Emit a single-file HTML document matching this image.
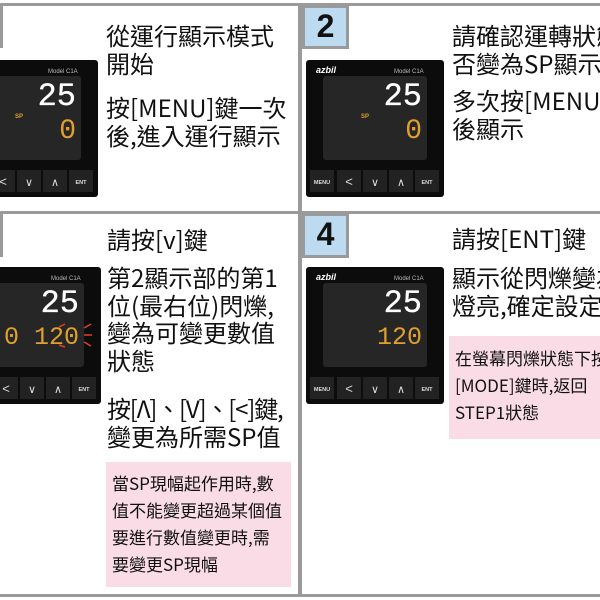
<!DOCTYPE html>
<html><head><meta charset="utf-8"><style>
html,body{margin:0;padding:0;background:#fff;}
body{width:600px;height:600px;position:relative;overflow:hidden;font-family:"Noto Sans CJK TC","Liberation Sans",sans-serif;color:#111;}
.ab{position:absolute;}
.t{position:absolute;font-size:24px;line-height:27.5px;white-space:nowrap;}
.pink{position:absolute;background:#f9dce6;font-size:17px;line-height:27px;white-space:nowrap;padding:0 0 0 6px;box-sizing:border-box;overflow:hidden;}
.num{position:absolute;background:#bcdaf0;border:3px solid #9a9a9a;box-sizing:border-box;font-family:"Liberation Sans",sans-serif;font-weight:bold;font-size:32px;line-height:36px;text-align:center;color:#111;}
</style></head><body>
<div class="ab" style="left:0;top:3px;width:600px;height:3px;background:#9a9a9a"></div>
<div class="ab" style="left:0;top:211px;width:600px;height:3px;background:#9a9a9a"></div>
<div class="ab" style="left:0;top:594px;width:600px;height:3px;background:#9a9a9a"></div>
<div class="ab" style="left:298px;top:3px;width:4px;height:594px;background:#9a9a9a"></div>

<div class="num" style="left:-40px;top:5px;width:43px;height:43px"></div>
<div class="num" style="left:302px;top:5px;width:47px;height:44px">2</div>
<div class="num" style="left:-40px;top:213px;width:43px;height:44px"></div>
<div class="num" style="left:302px;top:213px;width:47px;height:45px">4</div>

<svg width="0" height="0" style="position:absolute">
<defs>
<g id="dev">
<rect x="0" y="0" width="138" height="137" rx="3" fill="#0c0c0c"/>
<rect x="17" y="16" width="104" height="84" rx="3" fill="#262626"/>
<text x="10" y="13" font-family="Liberation Sans" font-style="italic" font-weight="bold" font-size="9" fill="#fff">azbil</text>
<text x="88" y="13" font-family="Liberation Sans" font-size="6" fill="#bbb">Model C1A</text>
<text x="116" y="45" text-anchor="end" font-family="Liberation Mono" font-size="32" fill="#fff" stroke="#fff" stroke-width="0.3">25</text>
<rect x="4" y="110" width="24" height="22" fill="#222"/>
<rect x="31" y="110" width="24" height="22" fill="#222"/>
<rect x="57" y="110" width="24" height="22" fill="#222"/>
<rect x="83" y="110" width="24" height="22" fill="#222"/>
<rect x="109" y="110" width="24" height="22" fill="#222"/>
<text x="16" y="124" text-anchor="middle" font-family="Liberation Sans" font-weight="bold" font-size="5.5" fill="#ddd">MENU</text>
<text x="43" y="126" text-anchor="middle" font-family="Liberation Sans" font-size="13" fill="#ddd">&lt;</text>
<text x="69" y="126" text-anchor="middle" font-family="Liberation Sans" font-size="11" fill="#ddd">∨</text>
<text x="95" y="126" text-anchor="middle" font-family="Liberation Sans" font-size="11" fill="#ddd">∧</text>
<text x="121" y="124" text-anchor="middle" font-family="Liberation Sans" font-weight="bold" font-size="5.5" fill="#ddd">ENT</text>
</g>
</defs></svg>

<svg class="ab" style="left:-40px;top:60px" width="138" height="137"><use href="#dev"/>
<text x="55" y="58" font-family="Liberation Sans" font-weight="bold" font-size="6" fill="#e0a030">SP</text>
<text x="116" y="78" text-anchor="end" font-family="Liberation Mono" font-size="28" fill="#e0a030">0</text></svg>
<svg class="ab" style="left:306px;top:60px" width="138" height="137"><use href="#dev"/>
<text x="55" y="58" font-family="Liberation Sans" font-weight="bold" font-size="6" fill="#e0a030">SP</text>
<text x="116" y="78" text-anchor="end" font-family="Liberation Mono" font-size="28" fill="#e0a030">0</text></svg>
<svg class="ab" style="left:-37px;top:267px" width="150" height="137"><use href="#dev"/>
<text x="116" y="77" text-anchor="end" font-family="Liberation Mono" font-size="25" fill="#e0a030">0 120</text>
<g stroke="#e04020" stroke-width="1.5">
<line x1="121" y1="61" x2="128" y2="57"/><line x1="121" y1="68" x2="129" y2="68"/><line x1="121" y1="75" x2="128" y2="79"/>
<line x1="96" y1="60" x2="102" y2="57"/><line x1="96" y1="78" x2="102" y2="80"/></g></svg>
<svg class="ab" style="left:306px;top:267px" width="138" height="137"><use href="#dev"/>
<text x="116" y="77" text-anchor="end" font-family="Liberation Mono" font-size="25" fill="#e0a030">120</text></svg>

<div class="t" style="left:106px;top:21px">從運行顯示模式<br>開始</div>
<div class="t" style="left:106px;top:93px">按[MENU]鍵一次<br>後,進入運行顯示</div>

<div class="t" style="left:452px;top:21px">請確認運轉狀態是<br>否變為SP顯示</div>
<div class="t" style="left:452px;top:86px">多次按[MENU]鍵<br>後顯示</div>

<div class="t" style="left:107px;top:225px">請按[v]鍵</div>
<div class="t" style="left:107px;top:263px">第2顯示部的第1<br>位(最右位)閃爍,<br>變為可變更數值<br>狀態</div>
<div class="t" style="left:107px;top:394px"><span style="letter-spacing:-1.2px">按[Λ]、[V]、[&lt;]鍵,</span><br>變更為所需SP值</div>
<div class="pink" style="left:106px;top:462px;width:185px;height:125px;padding-top:7px">當SP現幅起作用時,數<br>值不能變更超過某個值<br>要進行數值變更時,需<br>要變更SP現幅</div>

<div class="t" style="left:452px;top:224px">請按[ENT]鍵</div>
<div class="t" style="left:452px;top:263px">顯示從閃爍變為<br>燈亮,確定設定</div>
<div class="pink" style="left:449px;top:336px;width:160px;height:103px;padding-top:8px">在螢幕閃爍狀態下按<br>[MODE]鍵時,返回<br>STEP1狀態</div>
</body></html>
